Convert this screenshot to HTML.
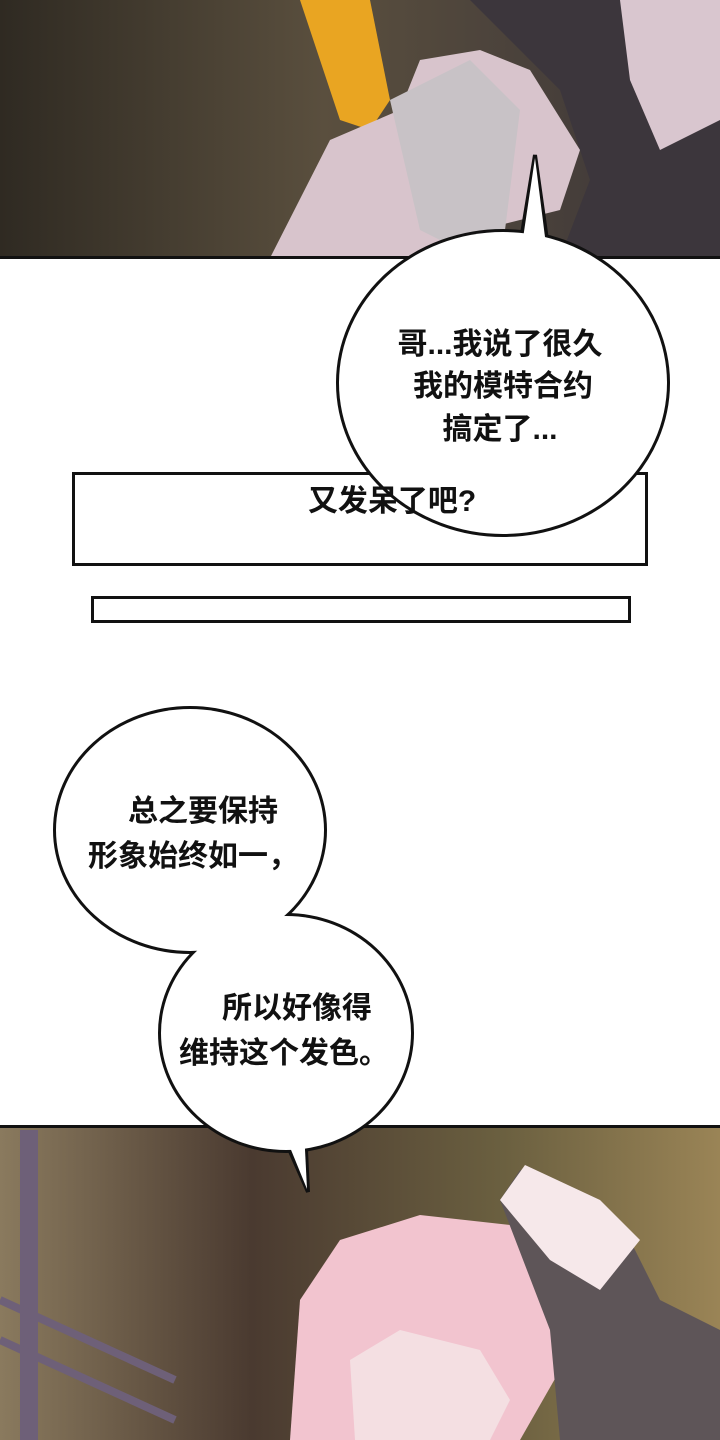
<!DOCTYPE html>
<html><head><meta charset="utf-8"><style>
html,body{margin:0;padding:0;background:#fff;}
svg{display:block;}
text{font-family:"Liberation Sans","Noto Sans CJK SC",sans-serif;font-weight:700;fill:#111;}
</style></head><body>
<svg width="720" height="1440" viewBox="0 0 720 1440" xmlns="http://www.w3.org/2000/svg">
<defs>
<linearGradient id="tp" x1="0" x2="1" y1="0" y2="0">
<stop offset="0" stop-color="#2f2a22"/><stop offset="0.45" stop-color="#5a4f3e"/><stop offset="1" stop-color="#3a3438"/>
</linearGradient>
<linearGradient id="bp" x1="0" x2="1" y1="0" y2="0">
<stop offset="0" stop-color="#8a7a5e"/><stop offset="0.35" stop-color="#4a3a30"/><stop offset="0.7" stop-color="#6b6040"/><stop offset="1" stop-color="#9a8456"/>
</linearGradient>
</defs>
<!-- top panel -->
<rect x="0" y="0" width="720" height="258" fill="url(#tp)"/>
<path d="M470 0 L720 0 L720 258 L560 258 L590 180 L560 90 Z" fill="#3c363c"/>
<path d="M300 0 L370 0 L390 100 L370 130 L340 120 Z" fill="#e9a522"/>
<path d="M270 258 L330 140 L400 110 L420 60 L480 50 L530 70 L580 150 L560 210 L480 230 L430 258 Z" fill="#d8c4cc"/>
<path d="M390 100 L470 60 L520 110 L500 270 L420 230 Z" fill="#c8c2c6"/>
<path d="M620 0 L720 0 L720 120 L660 150 L630 80 Z" fill="#d9c6cf"/>
<rect x="0" y="256" width="720" height="3" fill="#111"/>
<!-- bottom panel -->
<rect x="0" y="1127" width="720" height="313" fill="url(#bp)"/>
<rect x="20" y="1130" width="18" height="310" fill="#6e6078"/>
<path d="M0 1300 L175 1380" stroke="#6e6078" stroke-width="8"/>
<path d="M0 1340 L175 1420" stroke="#6e6078" stroke-width="8"/>
<path d="M290 1440 L300 1300 L340 1240 L420 1215 L510 1225 L560 1290 L560 1370 L520 1440 Z" fill="#f2c4cf"/>
<path d="M355 1440 L350 1360 L400 1330 L480 1350 L510 1400 L490 1440 Z" fill="#f4dfe2"/>
<path d="M500 1200 L520 1170 L560 1190 L620 1220 L660 1300 L720 1330 L720 1440 L560 1440 L550 1330 Z" fill="#5e5558"/>
<path d="M500 1200 L525 1165 L600 1200 L640 1240 L600 1290 L550 1260 Z" fill="#f6e8ea"/>
<rect x="0" y="1125" width="720" height="3" fill="#111"/>
<!-- rect 1 -->
<rect x="73.5" y="473.5" width="573" height="91" fill="#fff" stroke="#111" stroke-width="3"/>
<!-- bubble 1 -->
<g stroke="#111" stroke-width="4" fill="#fff">
<ellipse cx="503" cy="383" rx="165" ry="152"/>
<path d="M521 240 L535 155 L547 240 Z"/>
</g>
<g fill="#fff">
<ellipse cx="503" cy="383" rx="164" ry="151"/>
<path d="M522 245 L535 158 L546 245 Z"/>
</g>
<text x="500" y="354" font-size="30" text-anchor="middle">哥...我说了很久</text>
<text x="503" y="396" font-size="30" text-anchor="middle">我的模特合约</text>
<text x="500" y="439" font-size="30" text-anchor="middle">搞定了...</text>
<text x="392" y="511" font-size="30" text-anchor="middle">又发呆了吧?</text>
<!-- rect 2 -->
<rect x="92.5" y="597.5" width="537" height="24" fill="#fff" stroke="#111" stroke-width="3"/>
<!-- bubble 2 -->
<g stroke="#111" stroke-width="4" fill="#fff">
<ellipse cx="190" cy="830" rx="135" ry="122"/>
<ellipse cx="286" cy="1033" rx="126" ry="118"/>
<path d="M285 1140 L308 1192 L305 1130 Z"/>
</g>
<g fill="#fff">
<ellipse cx="190" cy="830" rx="134" ry="121"/>
<ellipse cx="286" cy="1033" rx="125" ry="117"/>
<path d="M287 1140 L307 1189 L304 1130 Z"/>
</g>
<text x="203" y="821" font-size="30" text-anchor="middle">总之要保持</text>
<text x="193" y="866" font-size="30" text-anchor="middle">形象始终如一，</text>
<text x="297" y="1018" font-size="30" text-anchor="middle">所以好像得</text>
<text x="284" y="1063" font-size="30" text-anchor="middle">维持这个发色。</text>
</svg>
</body></html>
